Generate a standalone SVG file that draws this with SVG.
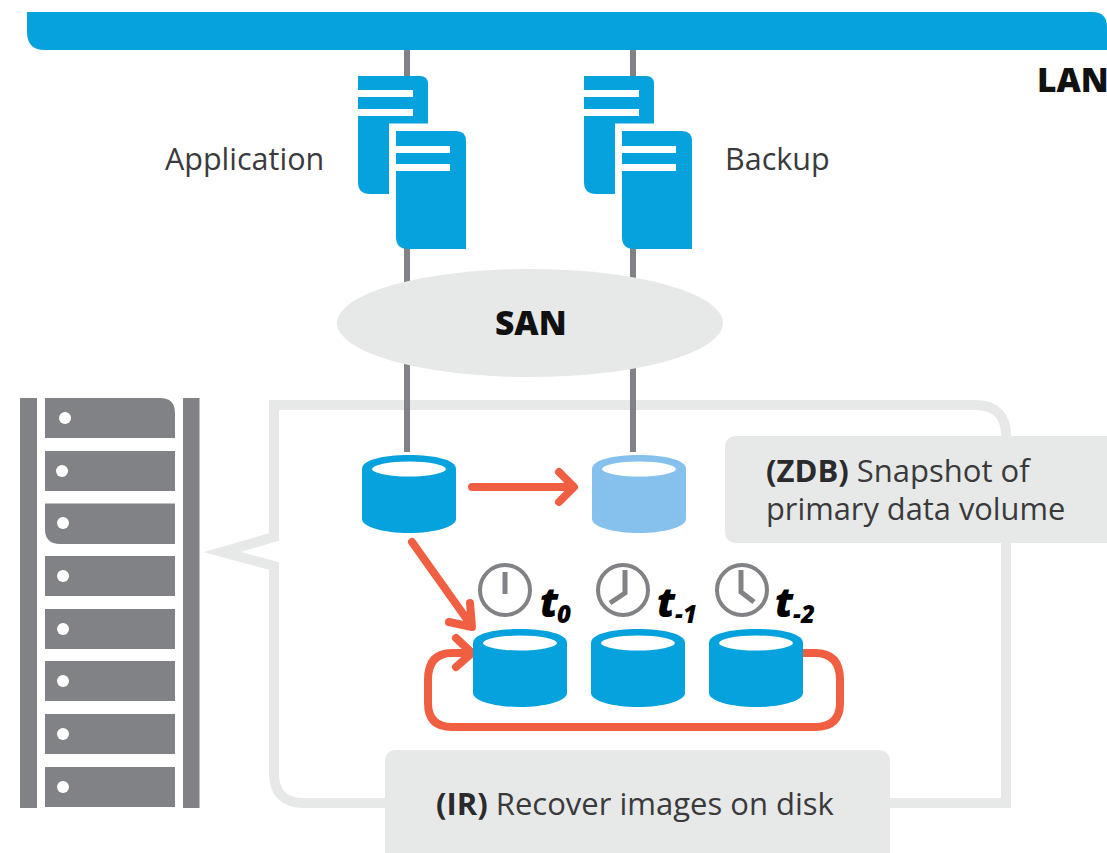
<svg xmlns="http://www.w3.org/2000/svg" xmlns:xlink="http://www.w3.org/1999/xlink" width="1107" height="853" viewBox="0 0 1107 853">
<style>
text{font-family:"Open Sans","Noto Sans",sans-serif;fill:#3a3a3c}
.lb{font-size:30.500px}
.lc{font-size:31px}
.b{font-weight:700;fill:#2b2b2d}
.h{font-weight:800;fill:#111;font-size:33.500px}
.t{font-weight:800;font-style:italic;fill:#000;font-size:40px}
.s{font-weight:800;font-style:italic;fill:#000;font-size:24px}
.link{stroke:#808285;stroke-width:6;fill:none}
.or{stroke:#f15f43;stroke-width:8;fill:none;stroke-linecap:round;stroke-linejoin:round}
.clk{fill:#fff;stroke:#808285;stroke-width:4}
.hand{fill:none;stroke:#808285;stroke-width:5}
.blue{fill:#05a2dd}
.unit{fill:#808285}
.dot{fill:#fff}
.box{fill:#e7e9e8}
</style>
<defs>
<g id="cyl">
<path d="M0 14C0 5 21 0 47 0S94 5 94 14V64C94 72 72 78 47 78S0 72 0 64Z"/>
<ellipse cx="47" cy="14" rx="37" ry="7.500" fill="#fff"/>
</g>
<g id="srv">
<path class="blue" d="M0 0H62Q70 0 70 8V47.500H31V118H12Q0 118 0 106V40H55V33H0V21H55V14H0Z"/>
<path class="blue" d="M38 55H98Q108 55 108 65V173H50Q38 173 38 161V95H92V88H38V77H92V70H38Z"/>
</g>
</defs>
<g id="bubble"><path d="M274 537V405H975Q1006 405 1006 436V803H304Q274 803 274 773V566L222 552Z" fill="none" stroke="#e7e9e8" stroke-width="10" stroke-miterlimit="10"/></g>
<g id="connectors">
<path class="link" d="M407 50V90M633 50V90M407 240V290M633 240V290M407 360V452M633 360V452"/>
<path class="or" d="M472 487H571M559 472L574 487L559 502"/>
<path class="or" d="M412 542L471 625M470 603L472 627L449 622"/>
<path class="or" d="M802 653H815Q840 653 840 680V703Q840 727 815 727H452Q428 727 428 703V680Q428 653 452 653H471M456 638L472 653L456 667"/>
</g>
<g id="lan"><path class="blue" d="M27 12H1092Q1107 12 1107 27V50H45Q27 50 27 32Z"/><text class="h" x="1037" y="92">LAN</text></g>
<g id="application"><use href="#srv" x="358" y="76"/><text class="lb" x="165" y="170">Application</text></g>
<g id="backup"><use href="#srv" x="584" y="76"/><text class="lb" x="725" y="170">Backup</text></g>
<g id="san"><ellipse cx="530" cy="323" rx="193" ry="54" fill="#e7e9e8"/><text class="h" x="495" y="335">SAN</text></g>
<g id="rack">
<rect class="unit" x="20" y="398" width="17" height="410"/>
<rect class="unit" x="183" y="398" width="16.500" height="410"/>
<path class="unit" d="M45 398H160Q175 398 175 413V438H45Z"/><circle class="dot" cx="65" cy="418" r="6"/>
<rect class="unit" x="45" y="451" width="130" height="40"/><circle class="dot" cx="62" cy="471" r="6"/>
<path class="unit" d="M45 503.500H175V544H60Q45 544 45 529Z"/><circle class="dot" cx="63" cy="523" r="6"/>
<rect class="unit" x="45" y="556" width="130" height="40"/><circle class="dot" cx="63" cy="576" r="6"/>
<rect class="unit" x="45" y="609" width="130" height="40"/><circle class="dot" cx="63" cy="629" r="6"/>
<rect class="unit" x="45" y="661" width="130" height="40"/><circle class="dot" cx="63" cy="681" r="6"/>
<rect class="unit" x="45" y="714" width="130" height="40"/><circle class="dot" cx="63" cy="734" r="6"/>
<rect class="unit" x="45" y="767" width="130" height="40"/><circle class="dot" cx="63" cy="787" r="6"/>
</g>
<g id="primary-volume"><use href="#cyl" x="362" y="455" class="blue"/></g>
<g id="snapshot-volume"><use href="#cyl" x="592" y="455" fill="#85c1ec"/></g>
<g id="zdb-label"><path class="box" d="M737 436H1107V543H737Q725 543 725 531V448Q725 436 737 436Z"/>
<text class="lc" x="766" y="482"><tspan class="b">(ZDB)</tspan> Snapshot of</text><text class="lb" x="766" y="520" style="font-size:30.800px">primary data volume</text></g>
<g id="ir-label"><path class="box" d="M397 750H878Q890 750 890 762V853H385V762Q385 750 397 750Z"/>
<text class="lc" x="436" y="815"><tspan class="b">(IR)</tspan> Recover images on disk</text></g>
<g id="t0"><use href="#cyl" x="473" y="629" class="blue"/><circle class="clk" cx="505" cy="590" r="25"/><path class="hand" d="M505 572V594"/><text class="t" x="540" y="617">t</text><text class="s" x="557" y="623">0</text></g>
<g id="t1"><use href="#cyl" x="591" y="629" class="blue"/><circle class="clk" cx="623" cy="590" r="25"/><path class="hand" d="M625 570V593L610 603"/><text class="t" x="657" y="617">t</text><text class="s" x="675" y="623">-1</text></g>
<g id="t2"><use href="#cyl" x="709" y="629" class="blue"/><circle class="clk" cx="742" cy="590" r="25"/><path class="hand" d="M741 570V592L754 602"/><text class="t" x="775" y="617">t</text><text class="s" x="793" y="623">-2</text></g>
</svg>
